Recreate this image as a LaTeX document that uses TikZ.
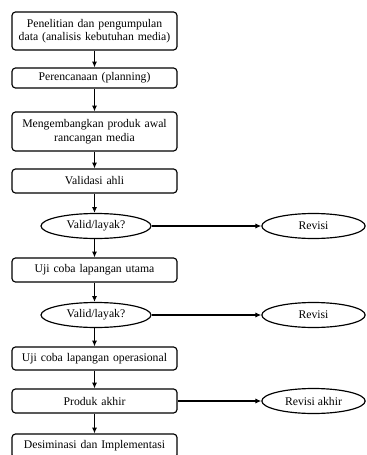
\documentclass[tikz,border=0pt]{standalone}
\usepackage{fontspec}
\setmainfont{Liberation Serif}
\usepackage{xcolor}
\usetikzlibrary{shapes.geometric}
\usetikzlibrary{arrows.meta}
\definecolor{lineblack}{RGB}{0,0,0}

\tikzset{
  stepbox/.style={draw=lineblack, line width=1pt, rounded corners=3pt,
    minimum width=4.95cm, text width=4.75cm, align=center, inner sep=1pt,
    font=\fontsize{10}{11.5}\selectfont},
  checkoval/.style={draw=lineblack, ellipse, line width=1pt, minimum width=3.3cm,
    minimum height=0.75cm, inner sep=0pt, font=\fontsize{10}{11.5}\selectfont},
  reviseoval/.style={draw=lineblack, ellipse, line width=1pt, minimum width=3.1cm,
    minimum height=0.75cm, inner sep=0pt, font=\fontsize{10}{11.5}\selectfont},
  flow/.style={-{Latex[length=5pt,width=4.5pt]}, line width=1pt}
}

\begin{document}
\begin{tikzpicture}[x=0.03cm, y=-0.03cm]
            \useasboundingbox (0,0) rectangle (366,455);

            % Main steps
            \node[stepbox, minimum height=1.14cm] (research) at (94.5,31) {Penelitian dan pengumpulan\\data (analisis kebutuhan media)};
            \node[stepbox, minimum height=0.6cm] (planning) at (94.5,78) {Perencanaan (planning)};
            \node[stepbox, minimum height=1.17cm] (develop) at (94.5,131.5) {Mengembangkan produk awal\\rancangan media};
            \node[stepbox, minimum height=0.72cm] (expert) at (94.5,181) {Validasi ahli};
            \node[checkoval] (validA) at (96,226) {Valid/layak?};
            \node[stepbox, minimum height=0.72cm] (maintest) at (94.5,270) {Uji coba lapangan utama};
            \node[checkoval] (validB) at (96,315) {Valid/layak?};
            \node[stepbox, minimum height=0.69cm] (optest) at (94.5,358.5) {Uji coba lapangan operasional};
            \node[stepbox, minimum height=0.72cm] (final) at (94.5,401) {Produk akhir};
            \node[stepbox, minimum height=0.72cm] (spread) at (94.5,446) {Desiminasi dan Implementasi};

            % Revisions
            \node[reviseoval] (reviseA) at (313.5,226) {Revisi};
            \node[reviseoval] (reviseB) at (313.5,315) {Revisi};
            \node[reviseoval] (reviseC) at (313.5,401) {Revisi akhir};

            % Flow arrows
            \draw[flow] (research) -- (planning);
            \draw[flow] (planning) -- (develop);
            \draw[flow] (develop) -- (expert);
            \draw[flow] (expert) -- (expert.south |- validA.north);
            \draw[flow] (validA.south -| maintest.north) -- (maintest);
            \draw[flow] (maintest) -- (maintest.south |- validB.north);
            \draw[flow] (validB.south -| optest.north) -- (optest);
            \draw[flow] (optest) -- (final);
            \draw[flow] (final) -- (spread);
            \draw[flow] (validA) -- (reviseA);
            \draw[flow] (validB) -- (reviseB);
            \draw[flow] (final) -- (reviseC);
        \end{tikzpicture}
\end{document}
